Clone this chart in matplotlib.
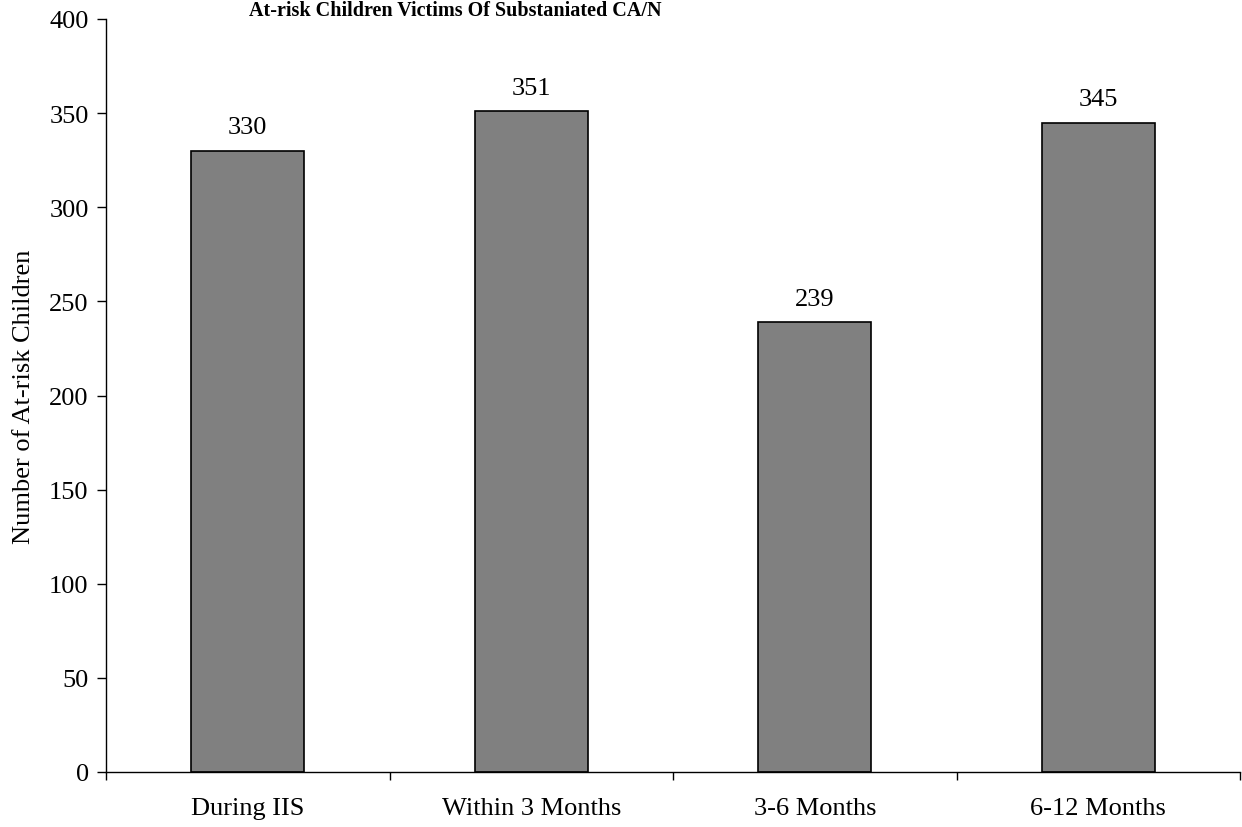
import matplotlib
matplotlib.use("Agg")
import matplotlib.pyplot as plt

categories = ["During IIS", "Within 3 Months", "3-6 Months", "6-12 Months"]
values = [330, 351, 239, 345]
title = "At-risk Children Victims Of Substaniated CA/N"
ylabel = "Number of At-risk Children"
yticks = [0, 50, 100, 150, 200, 250, 300, 350, 400]

plt.rcParams['font.family'] = ['Liberation Serif', 'DejaVu Serif']

fig = plt.figure(figsize=(12.42, 8.28), dpi=100)
ax = fig.add_axes([106/1242, 55/828, 1134/1242, 753/828])

x = list(range(len(categories)))
bars = ax.bar(x, values, width=0.4, color="#808080", edgecolor="black", linewidth=1.2)
for xi, v in zip(x, values):
    ax.annotate(str(v), (xi, v), xytext=(0, 9), textcoords="offset points",
                ha="center", va="bottom", fontsize=19)

ax.set_xlim(-0.5, len(categories) - 0.5)
ax.set_ylim(0, 400)
ax.set_yticks(yticks)
ax.tick_params(axis='y', labelsize=19, length=6.5, width=1, pad=6, direction='out')
ax.set_xticks(x)
ax.set_xticklabels(categories, fontsize=19)
ax.tick_params(axis='x', which='major', length=0, pad=18)
ax.set_xticks([i - 0.5 for i in range(len(categories) + 1)], minor=True)
ax.tick_params(axis='x', which='minor', length=6, width=1, direction='out')

for s in ['top', 'right']:
    ax.spines[s].set_visible(False)
for s in ['left', 'bottom']:
    ax.spines[s].set_linewidth(1)

ax.set_ylabel(ylabel, fontsize=19, labelpad=10)
fig.text(455/1242, 1 - 11/828, title, ha="center", va="center", fontsize=14.5, fontweight="bold")

fig.savefig("out.png", dpi=100)
